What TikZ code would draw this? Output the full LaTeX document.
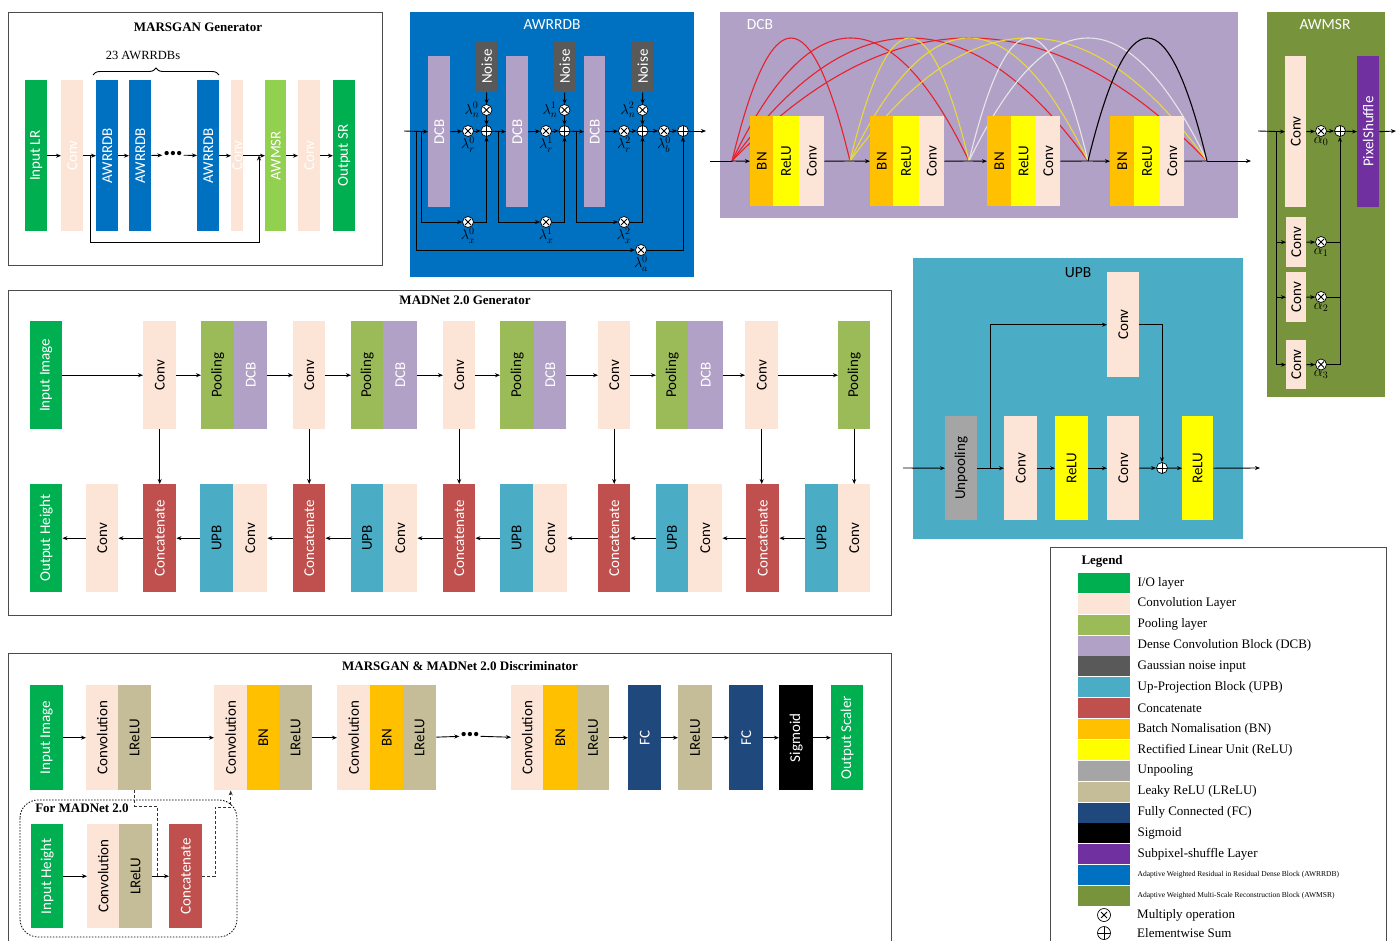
\documentclass[tikz,border=0pt]{standalone}
\usepackage{amsmath,amssymb}
\usepackage{fontspec}
\setmainfont{Liberation Serif}
\newfontfamily\boxfont{Carlito}
\usepackage{xcolor}
\definecolor{iogreen}{HTML}{00B050}
\definecolor{convpeach}{HTML}{FCE4D6}
\definecolor{poolgreen}{HTML}{9BBB59}
\definecolor{dcbpurple}{HTML}{B2A1C7}
\definecolor{noisegray}{HTML}{595959}
\definecolor{upbblue}{HTML}{4BACC6}
\definecolor{catred}{HTML}{C0504D}
\definecolor{bnorange}{HTML}{FFC000}
\definecolor{reluyellow}{HTML}{FFFF00}
\definecolor{unpoolgray}{HTML}{A5A5A5}
\definecolor{lrelutan}{HTML}{C4BD97}
\definecolor{fcnavy}{HTML}{1F497D}
\definecolor{pixpurple}{HTML}{7030A0}
\definecolor{awrblue}{HTML}{0070C0}
\definecolor{awmsrgreen}{HTML}{77933C}
\definecolor{awmsrlight}{HTML}{92D050}
\definecolor{arcred}{HTML}{E8202A}
\definecolor{arcyellow}{HTML}{E8D83A}
\definecolor{arcwhite}{HTML}{E6E6E6}
\usepackage{tikz}
\usetikzlibrary{arrows.meta,positioning,calc,decorations.pathreplacing}
\newcommand{\vtext}[1]{\rotatebox{90}{#1}}
\tikzset{
  panel/.style={draw=black!70, line width=1pt},
  heading/.style={font=\bfseries\fontsize{13}{13}\selectfont},
  blocktitle/.style={font=\boxfont\fontsize{15.5}{15.5}\selectfont},
  lay/.style={anchor=north west, inner sep=0pt, font=\boxfont\fontsize{15}{15}\selectfont},
  sz/.style 2 args={minimum width=#1pt, minimum height=#2pt},
  iolay/.style={lay, fill=iogreen, text=white},
  convlay/.style={lay, fill=convpeach, text=black},
  poollay/.style={lay, fill=poolgreen, text=black},
  dcblay/.style={lay, fill=dcbpurple, text=white},
  noiselay/.style={lay, fill=noisegray, text=white},
  upblay/.style={lay, fill=upbblue, text=black},
  catlay/.style={lay, fill=catred, text=white},
  bnlay/.style={lay, fill=bnorange, text=black},
  relulay/.style={lay, fill=reluyellow, text=black},
  unpoollay/.style={lay, fill=unpoolgray, text=black},
  lrelulay/.style={lay, fill=lrelutan, text=black},
  fclay/.style={lay, fill=fcnavy, text=white},
  siglay/.style={lay, fill=black, text=white},
  pixlay/.style={lay, fill=pixpurple, text=white},
  awrlay/.style={lay, fill=awrblue, text=white},
  msrlay/.style={lay, fill=awmsrlight, text=white},
  wire/.style={line width=0.9pt},
  flow/.style={wire, -{Stealth[length=5pt,width=4pt]}},
  dline/.style={line width=0.8pt, dash pattern=on 3pt off 2pt, black!80},
  mulop/.style={circle, draw, fill=white, line width=0.7pt, minimum size=11pt, inner sep=0pt,
    path picture={\draw[line width=0.9pt] (path picture bounding box.center) +(-3pt,-3pt) -- +(3pt,3pt) +(-3pt,3pt) -- +(3pt,-3pt);}},
  sumop/.style={circle, draw, fill=white, line width=0.7pt, minimum size=11pt, inner sep=0pt,
    path picture={\draw[line width=0.9pt] (path picture bounding box.north) -- (path picture bounding box.south) (path picture bounding box.west) -- (path picture bounding box.east);}},
  lam/.style={inner sep=0pt, font=\fontsize{14.4}{14.4}\selectfont},
  swatch/.style={anchor=west, minimum width=52pt, minimum height=20pt, inner sep=0pt},
  legtext/.style={anchor=west, inner sep=0pt, font=\fontsize{13}{13}\selectfont},
}

\begin{document}
\begin{tikzpicture}[x=1pt, y=-1pt]
  \useasboundingbox (0,0) rectangle (1397,940);

  % MARSGAN generator
  \draw[panel] (8,12) rectangle (382,265);
  \node[heading] (tgen) at (198,27) {MARSGAN Generator};
  \node[font=\fontsize{12.5}{12.5}\selectfont] (tblk) at (143,55) {23 AWRRDBs};
  \draw[wire, decorate, decoration={brace, amplitude=7pt}] (93,75) -- (219,75);
  \node[iolay, sz={22}{151}] (g1) at (25,80) {\vtext{Input LR}};
  \node[convlay, text=white, sz={22}{151}] (g2) at (61,80) {\vtext{Conv}};
  \node[awrlay, sz={22}{151}] (g3) at (96,80) {\vtext{AWRRDB}};
  \node[awrlay, sz={22}{151}] (g4) at (129,80) {\vtext{AWRRDB}};
  \node[inner sep=1pt, font=\fontsize{18}{18}\selectfont] (gdots) at (173,155) {\textbullet\textbullet\textbullet};
  \node[awrlay, sz={22}{151}] (g5) at (197,80) {\vtext{AWRRDB}};
  \node[convlay, text=white, sz={12}{151}] (g6) at (231,80) {\vtext{Conv}};
  \node[msrlay, sz={21}{151}] (g7) at (265,80) {\vtext{AWMSR}};
  \node[convlay, text=white, sz={22}{151}] (g8) at (298,80) {\vtext{Conv}};
  \node[iolay, sz={22}{151}] (g9) at (333,80) {\vtext{Output SR}};
  \draw[flow] (g1) -- (g2);
  \draw[flow] (g2) -- (g3);
  \draw[flow] (g3) -- (g4);
  \draw[flow] (g4) -- (gdots);
  \draw[flow] (gdots) -- (g5);
  \draw[flow] (g5) -- (g6);
  \draw[flow] (g6) -- (g7);
  \draw[flow] (g7) -- (g8);
  \draw[flow] (g8) -- (g9);
  \coordinate (gsa) at (90,155.5);
  \coordinate (gsb) at (259,155.5);
  \draw[flow] (gsa) -- ++(0,87) -| (gsb);

  % AWRRDB
  \fill[awrblue] (410,12) rectangle (694,277);
  \node[blocktitle, text=white] (tawr) at (552,25) {AWRRDB};
  \node[dcblay, sz={22}{151}] (a1) at (428,56) {\vtext{DCB}};
  \node[dcblay, sz={22}{151}] (a2) at (506,56) {\vtext{DCB}};
  \node[dcblay, sz={21}{151}] (a3) at (584,56) {\vtext{DCB}};
  \node[noiselay, sz={21}{51}] (n1) at (476,41) {\vtext{Noise}};
  \node[noiselay, sz={21}{51}] (n2) at (554,41) {\vtext{Noise}};
  \node[noiselay, sz={21}{51}] (n3) at (632,41) {\vtext{Noise}};
  \node[mulop] (m1) at (468,131) {};
  \node[sumop] (s1) at (486.5,131) {};
  \node[mulop] (mn1) at (486.5,110) {};
  \node[mulop] (m2) at (546,131) {};
  \node[sumop] (s2) at (564.5,131) {};
  \node[mulop] (mn2) at (564.5,110) {};
  \node[mulop] (m3) at (624,131) {};
  \node[sumop] (s3) at (642.5,131) {};
  \node[mulop] (mn3) at (642.5,110) {};
  \node[mulop] (mb) at (664,131) {};
  \node[sumop] (sb) at (683,131) {};
  \node[mulop] (mx1) at (468,222) {};
  \node[mulop] (mx2) at (546,222) {};
  \node[mulop] (mx3) at (624,222) {};
  \node[mulop] (ma) at (641,250) {};
  \node[lam, left=1pt of mn1] (ln1) {$\lambda^0_n$};
  \node[lam, left=1pt of mn2] (ln2) {$\lambda^1_n$};
  \node[lam, left=1pt of mn3] (ln3) {$\lambda^2_n$};
  \node[lam, below=0pt of m1] (lr1) {$\lambda^0_r$};
  \node[lam, below=0pt of m2] (lr2) {$\lambda^1_r$};
  \node[lam, below=0pt of m3] (lr3) {$\lambda^2_r$};
  \node[lam, below=0pt of mb] (lb) {$\lambda^0_b$};
  \node[lam, below=0pt of mx1] (lx1) {$\lambda^0_x$};
  \node[lam, below=0pt of mx2] (lx2) {$\lambda^1_x$};
  \node[lam, below=0pt of mx3] (lx3) {$\lambda^2_x$};
  \node[lam, below=0pt of ma] (la) {$\lambda^0_a$};
  \coordinate (ain) at (404,131);
  \coordinate (ab0) at (416,131);
  \coordinate (ab1) at (421,131);
  \coordinate (ab2) at (498,131);
  \coordinate (ab3) at (576,131);
  \coordinate (aout) at (706,131);
  \draw[flow] (ain) -- (a1.west);
  \draw[flow] (a1.east) -- (m1);
  \draw[flow] (m1) -- (s1);
  \draw[flow] (n1.south) -- (mn1);
  \draw[flow] (mn1) -- (s1);
  \draw[flow] (s1) -- (a2.west);
  \draw[flow] (a2.east) -- (m2);
  \draw[flow] (m2) -- (s2);
  \draw[flow] (n2.south) -- (mn2);
  \draw[flow] (mn2) -- (s2);
  \draw[flow] (s2) -- (a3.west);
  \draw[flow] (a3.east) -- (m3);
  \draw[flow] (m3) -- (s3);
  \draw[flow] (n3.south) -- (mn3);
  \draw[flow] (mn3) -- (s3);
  \draw[flow] (s3) -- (mb);
  \draw[flow] (mb) -- (sb);
  \draw[flow] (sb) -- (aout);
  \draw[flow] (ab1) |- (mx1);
  \draw[flow] (mx1) -| (s1);
  \draw[flow] (ab2) |- (mx2);
  \draw[flow] (mx2) -| (s2);
  \draw[flow] (ab3) |- (mx3);
  \draw[flow] (mx3) -| (s3);
  \draw[flow] (ab0) |- (ma);
  \draw[flow] (ma) -| (sb);

  % DCB
  \fill[dcbpurple] (720,12) rectangle (1238,218);
  \node[blocktitle, text=white] (tdcb) at (760,25) {DCB};
  \coordinate (j0) at (732,161);
  \coordinate (j1) at (850,161);
  \coordinate (j2) at (969,161);
  \coordinate (j3) at (1088,161);
  \coordinate (j4) at (1207,161);
  \foreach \a/\b/\col in {0/1/arcred,0/2/arcred,0/3/arcred,0/4/arcred,1/2/arcyellow,1/3/arcyellow,1/4/arcyellow,2/3/arcwhite,2/4/arcwhite,3/4/black}
    \draw[\col, line width=1.1pt] (j\a) .. controls ($(j\a)!0.333!(j\b)+(0,-164)$) and ($(j\a)!0.667!(j\b)+(0,-164)$) .. (j\b);
  \node[bnlay, sz={23}{90}] (b1) at (750,116) {\vtext{BN}};
  \node[relulay, sz={26}{90}] (r1) at (773,116) {\vtext{ReLU}};
  \node[convlay, sz={25}{90}] (c1) at (799,116) {\vtext{Conv}};
  \node[bnlay, sz={23}{90}] (b2) at (870,116) {\vtext{BN}};
  \node[relulay, sz={26}{90}] (r2) at (893,116) {\vtext{ReLU}};
  \node[convlay, sz={25}{90}] (c2) at (919,116) {\vtext{Conv}};
  \node[bnlay, sz={24}{90}] (b3) at (987,116) {\vtext{BN}};
  \node[relulay, sz={25}{90}] (r3) at (1011,116) {\vtext{ReLU}};
  \node[convlay, sz={24}{90}] (c3) at (1036,116) {\vtext{Conv}};
  \node[bnlay, sz={24}{90}] (b4) at (1110,116) {\vtext{BN}};
  \node[relulay, sz={26}{90}] (r4) at (1134,116) {\vtext{ReLU}};
  \node[convlay, sz={24}{90}] (c4) at (1160,116) {\vtext{Conv}};
  \coordinate (dcin) at (710,161);
  \coordinate (dcout) at (1251,161);
  \draw[wire] (dcin) -- (j0);
  \draw[flow] (j0) -- (b1.west);
  \draw[wire] (c1.east) -- (j1);
  \draw[flow] (j1) -- (b2.west);
  \draw[wire] (c2.east) -- (j2);
  \draw[flow] (j2) -- (b3.west);
  \draw[wire] (c3.east) -- (j3);
  \draw[flow] (j3) -- (b4.west);
  \draw[wire] (c4.east) -- (j4);
  \draw[flow] (j4) -- (dcout);

  % AWMSR
  \fill[awmsrgreen] (1267,12) rectangle (1385,397);
  \node[blocktitle, text=white] (tmsr) at (1325,25) {AWMSR};
  \node[convlay, sz={21}{151}] (w0) at (1285,56) {\vtext{Conv}};
  \node[pixlay, sz={22}{151}] (px) at (1357,56) {\vtext{PixelShuffle}};
  \node[convlay, sz={20}{50}] (w1) at (1286,217) {\vtext{Conv}};
  \node[convlay, sz={20}{50}] (w2) at (1286,272) {\vtext{Conv}};
  \node[convlay, sz={20}{49}] (w3) at (1286,340) {\vtext{Conv}};
  \node[mulop] (q0) at (1321,131) {};
  \node[sumop] (qs) at (1340,131) {};
  \node[mulop] (q1) at (1321,242) {};
  \node[mulop] (q2) at (1321,297) {};
  \node[mulop] (q3) at (1321,364.5) {};
  \node[lam, below=0pt of q0] (al0) {$\alpha_0$};
  \node[lam, below=0pt of q1] (al1) {$\alpha_1$};
  \node[lam, below=0pt of q2] (al2) {$\alpha_2$};
  \node[lam, below=0pt of q3] (al3) {$\alpha_3$};
  \coordinate (win) at (1258,131);
  \coordinate (wb) at (1276,131);
  \coordinate (wout) at (1396,131);
  \draw[flow] (win) -- (w0.west);
  \draw[flow] (wb) |- (w1.west);
  \draw[flow] (wb) |- (w2.west);
  \draw[flow] (wb) |- (w3.west);
  \draw[flow] (w0.east) -- (q0);
  \draw[flow] (q0) -- (qs);
  \draw[flow] (qs) -- (px.west);
  \draw[flow] (px.east) -- (wout);
  \draw[flow] (w1.east) -- (q1);
  \draw[flow] (w2.east) -- (q2);
  \draw[flow] (w3.east) -- (q3);
  \draw[wire] (q1) -- (q1 -| qs);
  \draw[wire] (q2) -- (q2 -| qs);
  \draw[flow] (q3) -| (qs);

  % MADNet 2.0 generator
  \draw[panel] (8,290) rectangle (891,615);
  \node[heading] (tmad) at (465,300) {MADNet 2.0 Generator};
  \node[iolay, sz={32}{108}] (mi) at (30,321) {\vtext{Input Image}};
  \node[convlay, sz={33}{108}] (mc1) at (143,321) {\vtext{Conv}};
  \node[poollay, sz={33}{108}] (mp1) at (201,321) {\vtext{Pooling}};
  \node[dcblay, sz={33}{108}] (md1) at (234,321) {\vtext{DCB}};
  \node[convlay, sz={32}{108}] (mc2) at (293,321) {\vtext{Conv}};
  \node[poollay, sz={32}{108}] (mp2) at (351,321) {\vtext{Pooling}};
  \node[dcblay, sz={34}{108}] (md2) at (383,321) {\vtext{DCB}};
  \node[convlay, sz={32}{108}] (mc3) at (443,321) {\vtext{Conv}};
  \node[poollay, sz={34}{108}] (mp3) at (500,321) {\vtext{Pooling}};
  \node[dcblay, sz={32}{108}] (md3) at (534,321) {\vtext{DCB}};
  \node[convlay, sz={32}{108}] (mc4) at (598,321) {\vtext{Conv}};
  \node[poollay, sz={32}{108}] (mp4) at (656,321) {\vtext{Pooling}};
  \node[dcblay, sz={35}{108}] (md4) at (688,321) {\vtext{DCB}};
  \node[convlay, sz={33}{108}] (mc5) at (745,321) {\vtext{Conv}};
  \node[poollay, sz={32}{108}] (mp5) at (838,321) {\vtext{Pooling}};
  \node[iolay, sz={32}{108}] (mo) at (30,484) {\vtext{Output Height}};
  \node[convlay, sz={32}{108}] (me0) at (86,484) {\vtext{Conv}};
  \node[catlay, sz={33}{108}] (mk1) at (143,484) {\vtext{Concatenate}};
  \node[upblay, sz={33}{108}] (mu1) at (200,484) {\vtext{UPB}};
  \node[convlay, sz={34}{108}] (mv1) at (233,484) {\vtext{Conv}};
  \node[catlay, sz={32}{108}] (mk2) at (293,484) {\vtext{Concatenate}};
  \node[upblay, sz={32}{108}] (mu2) at (351,484) {\vtext{UPB}};
  \node[convlay, sz={34}{108}] (mv2) at (383,484) {\vtext{Conv}};
  \node[catlay, sz={32}{108}] (mk3) at (443,484) {\vtext{Concatenate}};
  \node[upblay, sz={33}{108}] (mu3) at (500,484) {\vtext{UPB}};
  \node[convlay, sz={34}{108}] (mv3) at (533,484) {\vtext{Conv}};
  \node[catlay, sz={32}{108}] (mk4) at (598,484) {\vtext{Concatenate}};
  \node[upblay, sz={32}{108}] (mu4) at (656,484) {\vtext{UPB}};
  \node[convlay, sz={34}{108}] (mv4) at (688,484) {\vtext{Conv}};
  \node[catlay, sz={33}{108}] (mk5) at (746,484) {\vtext{Concatenate}};
  \node[upblay, sz={33}{108}] (mu5) at (805,484) {\vtext{UPB}};
  \node[convlay, sz={32}{108}] (mv5) at (838,484) {\vtext{Conv}};
  \draw[flow] (mi) -- (mc1);
  \draw[flow] (mc1) -- (mp1);
  \draw[flow] (md1) -- (mc2);
  \draw[flow] (mc2) -- (mp2);
  \draw[flow] (md2) -- (mc3);
  \draw[flow] (mc3) -- (mp3);
  \draw[flow] (md3) -- (mc4);
  \draw[flow] (mc4) -- (mp4);
  \draw[flow] (md4) -- (mc5);
  \draw[flow] (mc5) -- (mp5);
  \draw[flow] (mc1.south) -- (mc1.south |- mk1.north);
  \draw[flow] (mc2.south) -- (mc2.south |- mk2.north);
  \draw[flow] (mc3.south) -- (mc3.south |- mk3.north);
  \draw[flow] (mc4.south) -- (mc4.south |- mk4.north);
  \draw[flow] (mc5.south) -- (mc5.south |- mk5.north);
  \draw[flow] (mp5.south) -- (mp5.south |- mv5.north);
  \draw[flow] (mu5) -- (mk5);
  \draw[flow] (mk5) -- (mv4);
  \draw[flow] (mu4) -- (mk4);
  \draw[flow] (mk4) -- (mv3);
  \draw[flow] (mu3) -- (mk3);
  \draw[flow] (mk3) -- (mv2);
  \draw[flow] (mu2) -- (mk2);
  \draw[flow] (mk2) -- (mv1);
  \draw[flow] (mu1) -- (mk1);
  \draw[flow] (mk1) -- (me0);
  \draw[flow] (me0) -- (mo);

  % UPB
  \fill[upbblue] (913,258) rectangle (1243,539);
  \node[blocktitle] (tupb) at (1078,273) {UPB};
  \node[convlay, sz={32}{105}] (ut) at (1107,272) {\vtext{Conv}};
  \node[unpoollay, sz={32}{104}] (uu) at (945,416) {\vtext{Unpooling}};
  \node[convlay, sz={33}{104}] (uc1) at (1004,416) {\vtext{Conv}};
  \node[relulay, sz={33}{104}] (ur1) at (1055,416) {\vtext{ReLU}};
  \node[convlay, sz={32}{104}] (uc2) at (1107,416) {\vtext{Conv}};
  \node[sumop] (us) at (1162,468) {};
  \node[relulay, sz={31}{104}] (ur2) at (1182,416) {\vtext{ReLU}};
  \coordinate (uin) at (903,468);
  \coordinate (ub) at (990,468);
  \coordinate (uout) at (1260,468);
  \draw[flow] (uin) -- (uu.west);
  \draw[flow] (uu.east) -- (uc1.west);
  \draw[flow] (ub) |- (ut.west);
  \draw[flow] (ut.east) -| (us);
  \draw[flow] (uc1) -- (ur1);
  \draw[flow] (ur1) -- (uc2);
  \draw[flow] (uc2) -- (us);
  \draw[flow] (us) -- (ur2.west);
  \draw[flow] (ur2.east) -- (uout);

  % discriminator
  \draw[panel] (8,945) |- (891,653) -- (891,945);
  \node[heading] (tdis) at (460,666) {MARSGAN \& MADNet 2.0 Discriminator};
  \node[iolay, sz={33}{105}] (di) at (30,685) {\vtext{Input Image}};
  \node[convlay, sz={32}{105}] (dc1) at (86,685) {\vtext{Convolution}};
  \node[lrelulay, sz={33}{105}] (dl1) at (118,685) {\vtext{LReLU}};
  \node[convlay, sz={33}{105}] (dc2) at (214,685) {\vtext{Convolution}};
  \node[bnlay, sz={32}{105}] (db2) at (247,685) {\vtext{BN}};
  \node[lrelulay, sz={33}{105}] (dl2) at (279,685) {\vtext{LReLU}};
  \node[convlay, sz={33}{105}] (dc3) at (337,685) {\vtext{Convolution}};
  \node[bnlay, sz={33}{105}] (db3) at (370,685) {\vtext{BN}};
  \node[lrelulay, sz={33}{105}] (dl3) at (403,685) {\vtext{LReLU}};
  \node[inner sep=1pt, font=\fontsize{18}{18}\selectfont] (ddots) at (470,736) {\textbullet\textbullet\textbullet};
  \node[convlay, sz={32}{105}] (dc4) at (511,685) {\vtext{Convolution}};
  \node[bnlay, sz={34}{105}] (db4) at (543,685) {\vtext{BN}};
  \node[lrelulay, sz={32}{105}] (dl4) at (577,685) {\vtext{LReLU}};
  \node[fclay, sz={33}{105}] (df1) at (628,685) {\vtext{FC}};
  \node[lrelulay, sz={34}{105}] (dl5) at (678,685) {\vtext{LReLU}};
  \node[fclay, sz={34}{105}] (df2) at (729,685) {\vtext{FC}};
  \node[siglay, sz={34}{105}] (ds) at (779,685) {\vtext{Sigmoid}};
  \node[iolay, sz={32}{105}] (dout) at (831,685) {\vtext{Output Scaler}};
  \draw[flow] (di) -- (dc1);
  \draw[flow] (dl1) -- (dc2);
  \draw[flow] (dl2) -- (dc3);
  \draw[flow] (dl3) -- (ddots);
  \draw[flow] (ddots) -- (dc4);
  \draw[flow] (dl4) -- (df1);
  \draw[flow] (df1) -- (dl5);
  \draw[flow] (dl5) -- (df2);
  \draw[flow] (df2) -- (ds);
  \draw[flow] (ds) -- (dout);
  % MADNet height branch
  \draw[line width=0.8pt, dash pattern=on 1.5pt off 1.5pt, rounded corners=18pt] (20,800) rectangle (237,937);
  \node[heading, fill=white, inner sep=1pt] (tfor) at (82,808) {For MADNet 2.0};
  \node[iolay, sz={32}{104}] (hi) at (31,824) {\vtext{Input Height}};
  \node[convlay, sz={32}{104}] (hc) at (87,824) {\vtext{Convolution}};
  \node[lrelulay, sz={33}{104}] (hl) at (119,824) {\vtext{LReLU}};
  \node[catlay, sz={33}{104}] (hk) at (169,824) {\vtext{Concatenate}};
  \draw[flow] (hi) -- (hc);
  \draw[flow] (hl) -- (hk);
  \coordinate (hj) at (157,876);
  \coordinate (hm) at (215,807);
  \draw[dline] (dl1.south) -- ++(0,16) -| (hj);
  \draw[dline, -{Stealth[length=5pt,width=4pt]}] (hk.east) -| (hm) -| (dc2.south);

  % legend
  \draw[panel] (1050,945) |- (1386,547) -- (1386,945);
  \node[heading, anchor=west] (tleg) at (1078,561) {Legend};
  \foreach \col/\txt [count=\i] in {iogreen/{I/O layer}, convpeach/{Convolution Layer}, poolgreen/{Pooling layer},
      dcbpurple/{Dense Convolution Block (DCB)}, noisegray/{Gaussian noise input}, upbblue/{Up-Projection Block (UPB)},
      catred/{Concatenate}, bnorange/{Batch Nomalisation (BN)}, reluyellow/{Rectified Linear Unit (ReLU)},
      unpoolgray/{Unpooling}, lrelutan/{Leaky ReLU (LReLU)}, fcnavy/{Fully Connected (FC)}, black/{Sigmoid},
      pixpurple/{Subpixel-shuffle Layer},
      awrblue/{\fontsize{7.5}{8}\selectfont Adaptive Weighted Residual in Residual Dense Block (AWRRDB)},
      awmsrgreen/{\fontsize{7.5}{8}\selectfont Adaptive Weighted Multi-Scale Reconstruction Block (AWMSR)}} {
    \node[swatch, fill=\col] (sw\i) at (1078,{562.13+\i*20.87}) {};
    \node[legtext, right=7pt of sw\i] (lt\i) {\txt};
  }
  \node[mulop, minimum size=13pt] (lmul) at (1104,915) {};
  \node[legtext] (ltm) at (1137,915) {Multiply operation};
  \node[sumop, minimum size=13pt] (lsum) at (1104,933) {};
  \node[legtext] (lts) at (1137,933) {Elementwise Sum};
\end{tikzpicture}
\end{document}
